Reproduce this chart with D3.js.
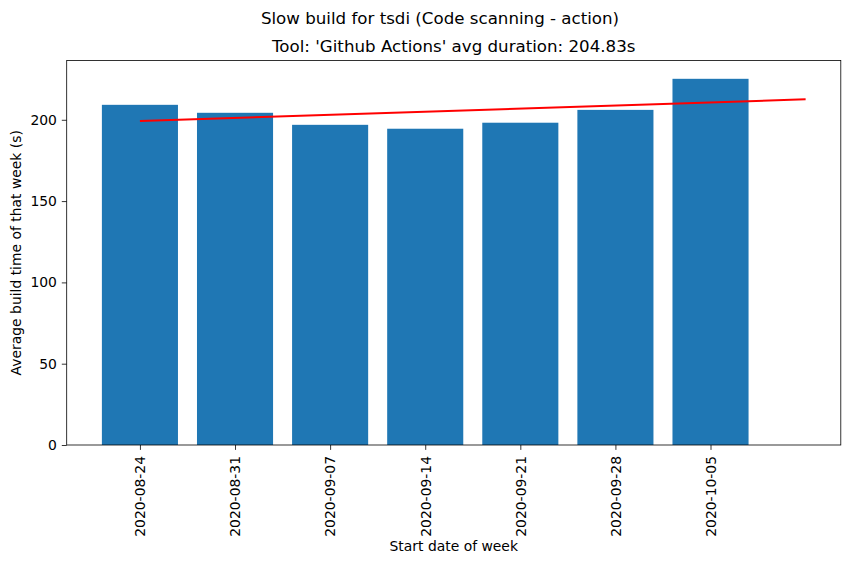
<!DOCTYPE html>
<html>
<head>
<meta charset="utf-8">
<script src="https://cdn.jsdelivr.net/npm/d3@7"></script>
<style>
  html, body { margin: 0; padding: 0; background: #fff; }
  text { font-family: "DejaVu Sans", sans-serif; fill: #000; }
</style>
</head>
<body>
<svg id="chart" width="850" height="564"></svg>
<script>
// ---- data ----
const weeks = ["2020-08-24", "2020-08-31", "2020-09-07", "2020-09-14", "2020-09-21", "2020-09-28", "2020-10-05"];
const durations = [209.2, 204.3, 196.9, 194.5, 198.2, 206.1, 225.2];
const trendX = [0, 7];
const trendY = [199.3, 212.6];
const yTicks = [0, 50, 100, 150, 200];
const suptitle = "Slow build for tsdi (Code scanning - action)";
const title = "Tool: 'Github Actions' avg duration: 204.83s";
const xLabel = "Start date of week";
const yLabel = "Average build time of that week (s)";

// ---- layout ----
const svg = d3.select("#chart");
const L = 66.7, R = 840.8, T = 60.5, B = 445;

const x = d3.scaleLinear().domain([-0.77, 7.37]).range([L, R]);
const y = d3.scaleLinear().domain([0, 236.46]).range([B, T]);
const barW = 0.8;

// bars
svg.append("g").selectAll("rect").data(durations).join("rect")
  .attr("x", (d, i) => x(i - barW / 2))
  .attr("width", (d, i) => x(i + barW / 2) - x(i - barW / 2))
  .attr("y", d => y(d))
  .attr("height", d => y(0) - y(d))
  .attr("fill", "#1f77b4");

// trend line
const line = d3.line().x(d => x(d[0])).y(d => y(d[1]));
svg.append("path")
  .datum(trendX.map((v, i) => [v, trendY[i]]))
  .attr("d", line)
  .attr("fill", "none")
  .attr("stroke", "red")
  .attr("stroke-width", 2);

// axes
const yAxis = d3.axisLeft(y).tickValues(yTicks).tickSize(4.9).tickPadding(4.9).tickFormat(d3.format("d"));
const gy = svg.append("g").attr("transform", `translate(${L},0)`).call(yAxis);
gy.select(".domain").remove();
gy.selectAll("text").style("font-size", "13.9px");
gy.selectAll("line").attr("stroke", "#000").attr("stroke-width", 0.8);

const xAxis = d3.axisBottom(x).tickValues(d3.range(weeks.length)).tickSize(4.9).tickPadding(4.9).tickFormat(i => weeks[i]);
const gx = svg.append("g").attr("transform", `translate(0,${B})`).call(xAxis);
gx.select(".domain").remove();
gx.selectAll("line").attr("stroke", "#000").attr("stroke-width", 0.8);
gx.selectAll("text")
  .style("font-size", "13.9px")
  .attr("transform", "rotate(-90)")
  .attr("text-anchor", "end")
  .attr("dy", "0.35em")
  .attr("x", -11)
  .attr("y", 0);

// frame
svg.append("rect")
  .attr("x", L).attr("y", T).attr("width", R - L).attr("height", B - T)
  .attr("fill", "none").attr("stroke", "#000").attr("stroke-width", 0.8);

// titles
svg.append("text").attr("x", 440).attr("y", 23.5).attr("text-anchor", "middle")
  .style("font-size", "16.67px").text(suptitle);
svg.append("text").attr("x", (L + R) / 2).attr("y", 52).attr("text-anchor", "middle")
  .style("font-size", "16.67px").text(title);
svg.append("text").attr("x", (L + R) / 2).attr("y", 551).attr("text-anchor", "middle")
  .style("font-size", "13.9px").text(xLabel);
svg.append("text").attr("transform", `translate(21,${(T + B) / 2}) rotate(-90)`).attr("text-anchor", "middle")
  .style("font-size", "13.9px").text(yLabel);
</script>
</body>
</html>
